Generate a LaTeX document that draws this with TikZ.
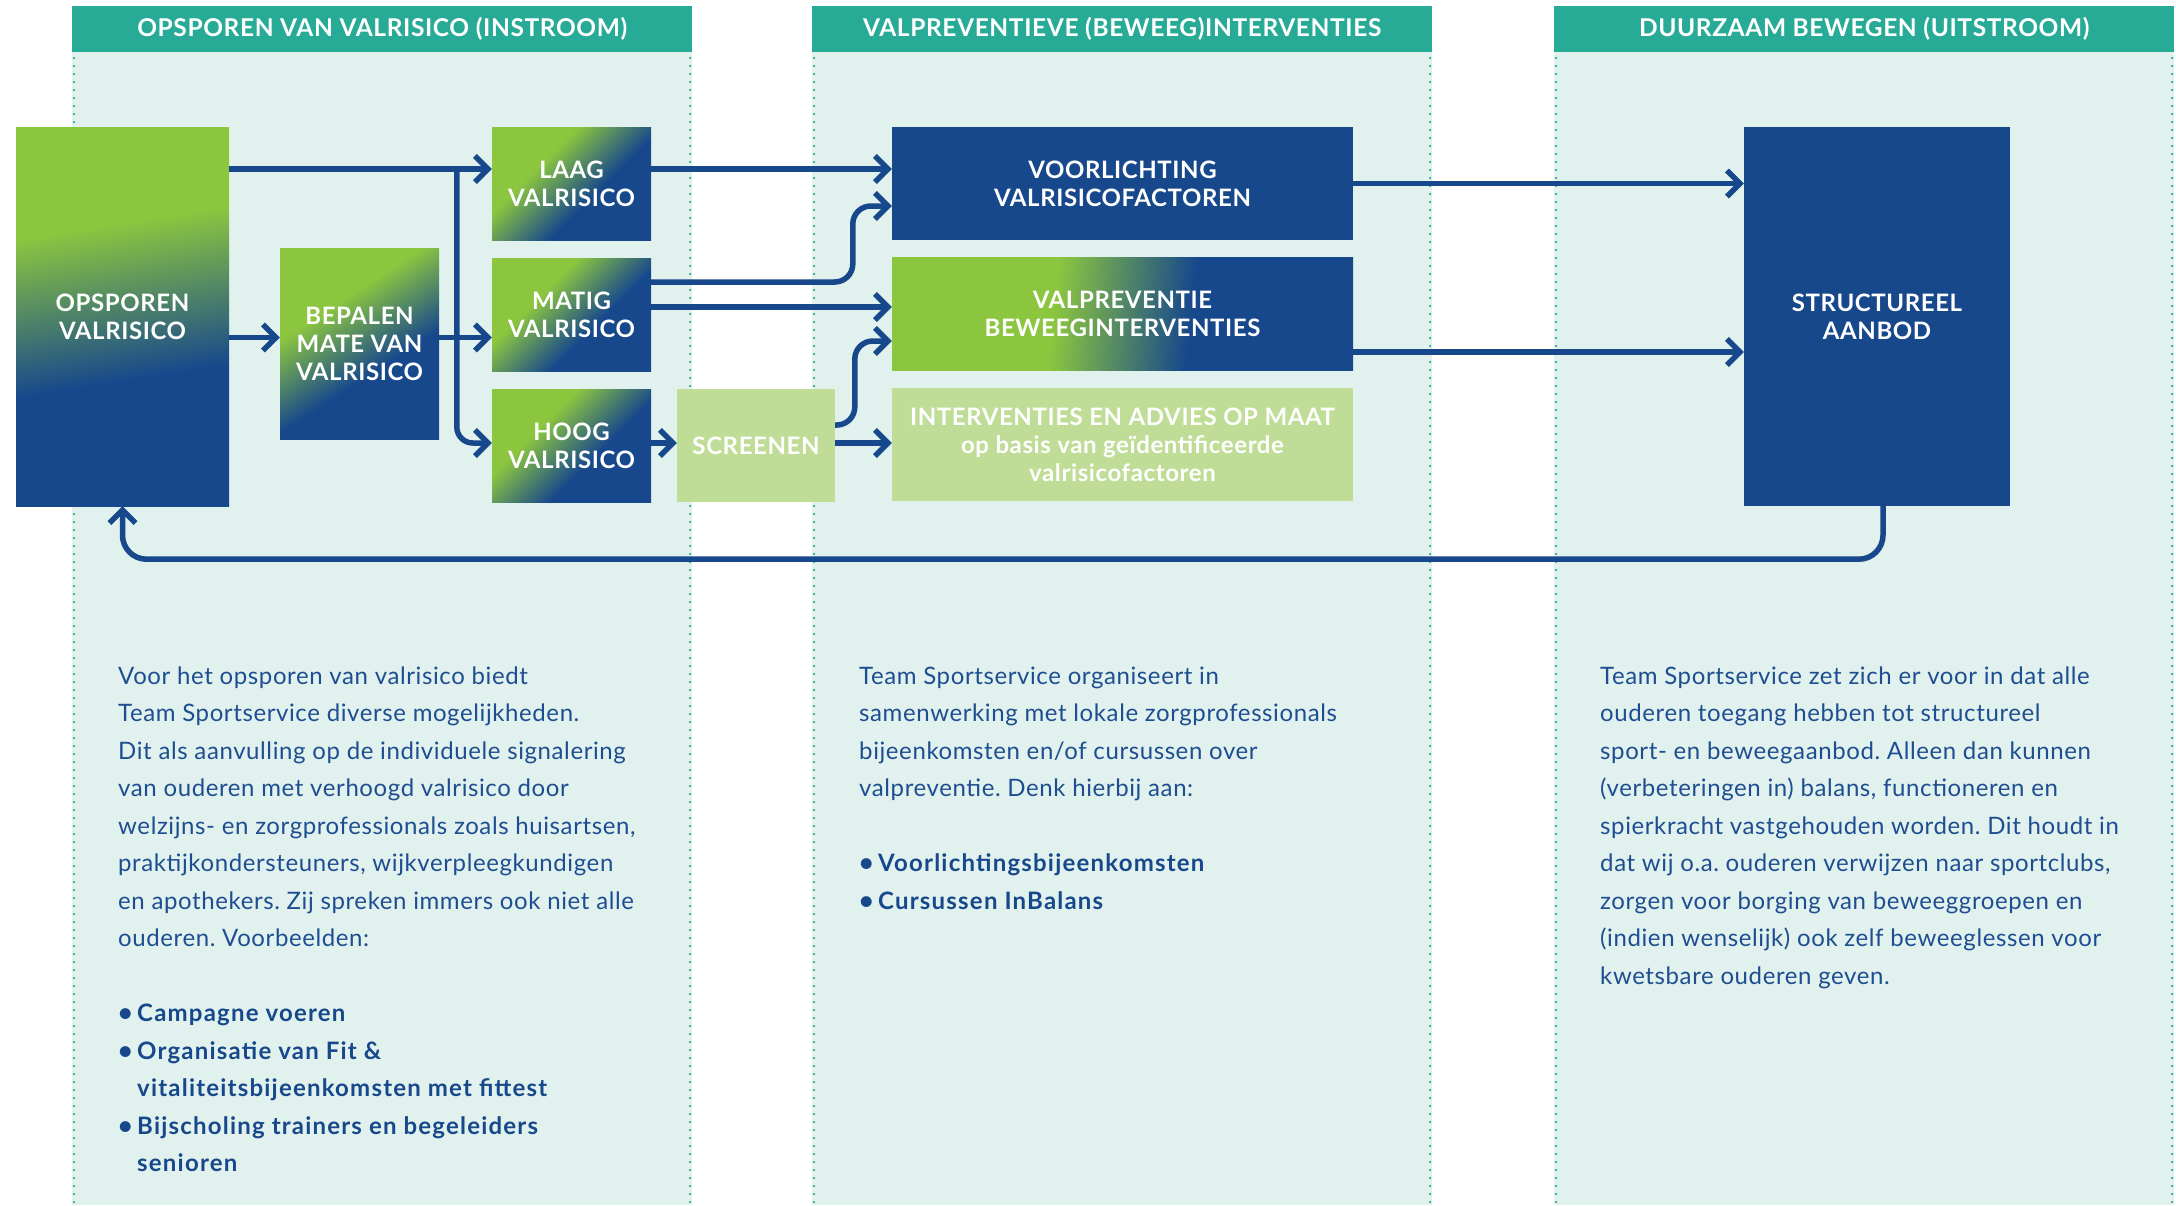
\documentclass[tikz,border=0pt]{standalone}
\usepackage{fontspec}
\setmainfont{Lato}[LetterSpace=2.5]
\newfontfamily\lijstfont{Lato}[LetterSpace=5]
\usetikzlibrary{arrows.meta,calc}
\frenchspacing
\definecolor{valblauw}{RGB}{23,72,140}
\definecolor{valgroen}{RGB}{140,198,63}
\definecolor{lichtgroen}{RGB}{192,221,151}
\definecolor{kopteal}{RGB}{39,171,150}
\definecolor{vakmint}{RGB}{225,241,238}
\definecolor{tekstblauw}{RGB}{30,78,145}
\pgfdeclareverticalshading{valdiag}{100bp}{color(0bp)=(valblauw); color(41bp)=(valblauw); color(63bp)=(valgroen); color(100bp)=(valgroen)}
\pgfdeclarehorizontalshading{valhor}{100bp}{color(0bp)=(valgroen); color(42bp)=(valgroen); color(58bp)=(valblauw); color(100bp)=(valblauw)}
\newcommand{\bol}{\makebox[19pt][l]{\fontsize{25}{25}\selectfont•}}
\newcommand{\inspring}{\hspace*{19pt}}
\tikzset{
  blok/.style={inner sep=0pt, align=center, text=white, font=\bfseries\fontsize{24}{28}\selectfont},
  verloop/.style={blok, shade, shading=valdiag, shading angle=#1},
  donker/.style={blok, fill=valblauw},
  licht/.style={blok, fill=lichtgroen},
  pijl/.style={draw=valblauw, line width=5.5pt, -{Straight Barb[length=13pt,width=26pt,line cap=butt,line join=miter]}},
  kop/.style={fill=kopteal, text=white, inner sep=0pt, minimum width=620pt, minimum height=46pt, font=\bfseries\fontsize{24.5}{28}\selectfont},
  tekst/.style={anchor=base west, align=left, inner sep=0pt, text=tekstblauw, font=\fontsize{24}{37.5}\selectfont},
  lijst/.style={tekst, text=valblauw, font=\lijstfont\bfseries\fontsize{24}{37.5}\selectfont},
}
\begin{document}
\begin{tikzpicture}[x=1pt,y=-1pt]
\useasboundingbox[fill=white] (0,0) rectangle (2176,1205);
% kolommen met kop
\foreach \links/\naam/\titel in {72/h1/{OPSPOREN VAN VALRISICO (INSTROOM)},812/h2/{VALPREVENTIEVE (BEWEEG)INTERVENTIES},1554/h3/{DUURZAAM BEWEGEN (UITSTROOM)}}{
  \fill[vakmint] (\links,52) rectangle ++(620,1153);
  \draw[kopteal, line width=2.5pt, line cap=round, dash pattern=on 0pt off 8pt] (\links+2,58) -- (\links+2,1205) (\links+618,58) -- (\links+618,1205);
  \node[kop, anchor=north west] (\naam) at (\links,6) {\titel};
}
% blokken
\path
(122.5,316.5) node[verloop=9, minimum width=213pt, minimum height=379pt] (ops) {OPSPOREN\\VALRISICO}
(359.5,343.5) node[verloop=33, minimum width=159pt, minimum height=191pt] (bep) {BEPALEN\\MATE VAN\\VALRISICO}
(571.5,183.5) node[verloop=45, minimum width=159pt, minimum height=113pt] (laag) {LAAG\\VALRISICO}
(571.5,314.5) node[verloop=45, minimum width=159pt, minimum height=113pt] (matig) {MATIG\\VALRISICO}
(571.5,445.5) node[verloop=45, minimum width=159pt, minimum height=113pt] (hoog) {HOOG\\VALRISICO}
(756,445.5) node[licht, minimum width=158pt, minimum height=113pt] (screen) {SCREENEN}
(1122.5,183.5) node[donker, minimum width=461pt, minimum height=113pt] (voorl) {VOORLICHTING\\VALRISICOFACTOREN}
(1122.5,313.5) node[blok, shade, shading=valhor, shading angle=-6, minimum width=461pt, minimum height=113pt] (valprev) {VALPREVENTIE\\BEWEEGINTERVENTIES}
(1122.5,444.5) node[licht, minimum width=461pt, minimum height=113pt] (interv) {INTERVENTIES EN ADVIES OP MAAT\\op basis van geïdentificeerde\\valrisicofactoren}
(1877,316.5) node[donker, minimum width=266pt, minimum height=379pt] (struct) {STRUCTUREEL\\AANBOD};
% aansluitpunten
\path
([yshift=14.5pt]laag.west) coordinate (laagin)
([xshift=-35pt]laagin) coordinate (split)
([yshift=6pt]bep.east) coordinate (bepuit)
([yshift=32.5pt]matig.east) coordinate (matiguit)
([yshift=7.5pt]matig.east) coordinate (matigmid)
([yshift=-22.5pt]voorl.west) coordinate (voorlin)
([yshift=20.5pt]screen.east) coordinate (screenuit)
([yshift=-27.5pt]valprev.west) coordinate (valprevin)
([yshift=-38.5pt]valprev.east) coordinate (valprevuit)
([xshift=6pt]struct.south) coordinate (structuit)
([yshift=-53pt]ops.south) coordinate (terug);
\draw[pijl] (laagin -| ops.east) -- (laagin);
\draw[pijl, rounded corners=16pt] (split) |- ([yshift=2.5pt]hoog.west);
\draw[pijl] (bepuit -| ops.east) -- ([yshift=6pt]bep.west);
\draw[pijl] (bepuit) -- (bepuit -| matig.west);
\draw[pijl] (laagin -| laag.east) -- (laagin -| voorl.west);
\draw[pijl, rounded corners=18pt] (matiguit) -| ([xshift=-39pt]voorlin) -- (voorlin);
\draw[pijl] (matigmid) -- (matigmid -| valprev.west);
\draw[pijl] ([yshift=2.5pt]hoog.east) -- ([yshift=2.5pt]screen.west);
\draw[pijl, rounded corners=18pt] (screenuit) -| ([xshift=-37pt]valprevin) -- (valprevin);
\draw[pijl] ([yshift=2.5pt]screen.east) -- ([yshift=1.5pt]interv.west);
\draw[pijl] (voorl.east) -- (voorl.east -| struct.west);
\draw[pijl] (valprevuit) -- (valprevuit -| struct.west);
\draw[pijl, rounded corners=24pt] (structuit) |- (terug) -- (ops.south);
% teksten (basislijn = laatste regel)
\node[tekst] (tekst1) at (118,946.5) {Voor het opsporen van valrisico biedt\\Team Sportservice diverse mogelijkheden.\\Dit als aanvulling op de individuele signalering\\van ouderen met verhoogd valrisico door\\welzijns- en zorgprofessionals zoals huisartsen,\\praktijkondersteuners, wijkverpleegkundigen\\en apothekers. Zij spreken immers ook niet alle\\ouderen. Voorbeelden:};
\node[lijst] (lijst1) at (118,1171.5) {\bol Campagne voeren\\\bol Organisatie van Fit \&\\\inspring vitaliteitsbijeenkomsten met fittest\\\bol Bijscholing trainers en begeleiders\\\inspring senioren};
\node[tekst] (tekst2) at (859,796.5) {Team Sportservice organiseert in\\samenwerking met lokale zorgprofessionals\\bijeenkomsten en/of cursussen over\\valpreventie. Denk hierbij aan:};
\node[lijst] (lijst2) at (859,909) {\bol Voorlichtingsbijeenkomsten\\\bol Cursussen InBalans};
\node[tekst] (tekst3) at (1600,984) {Team Sportservice zet zich er voor in dat alle\\ouderen toegang hebben tot structureel\\sport- en beweegaanbod. Alleen dan kunnen\\(verbeteringen in) balans, functioneren en\\spierkracht vastgehouden worden. Dit houdt in\\dat wij o.a. ouderen verwijzen naar sportclubs,\\zorgen voor borging van beweeggroepen en\\(indien wenselijk) ook zelf beweeglessen voor\\kwetsbare ouderen geven.};
\end{tikzpicture}
\end{document}
